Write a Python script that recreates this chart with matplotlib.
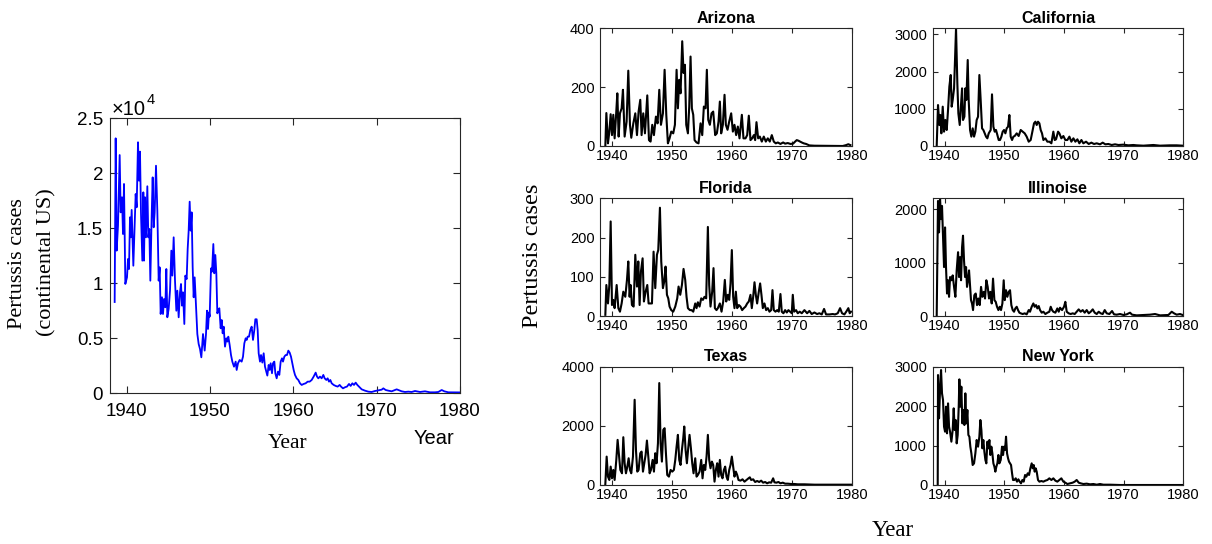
import matplotlib
matplotlib.use("Agg")
import matplotlib.pyplot as plt
from matplotlib.ticker import FuncFormatter

SANS = ["Liberation Sans", "DejaVu Sans"]
SERIF = ["Liberation Serif", "DejaVu Serif"]
plt.rcParams["font.family"] = SANS

# ---------------- data ----------------
us_year = [1938.56, 1938.68, 1938.80, 1938.96, 1939.16, 1939.28, 1939.44, 1939.56, 1939.68, 1939.84,
           1940.04, 1940.16, 1940.28, 1940.40, 1940.48, 1940.60, 1940.80, 1941.08, 1941.20, 1941.36,
           1941.48, 1941.60, 1941.72, 1941.88, 1942.00, 1942.08, 1942.20, 1942.32, 1942.48, 1942.60,
           1942.72, 1942.84, 1943.00, 1943.12, 1943.24, 1943.36, 1943.52, 1943.68, 1943.84, 1943.96,
           1944.08, 1944.24, 1944.36, 1944.48, 1944.64, 1944.76, 1944.88, 1945.04, 1945.20, 1945.36,
           1945.48, 1945.64, 1945.80, 1945.96, 1946.08, 1946.24, 1946.40, 1946.52, 1946.64, 1946.76,
           1946.92, 1947.04, 1947.20, 1947.32, 1947.44, 1947.56, 1947.68, 1947.80, 1947.92, 1948.04,
           1948.16, 1948.32, 1948.48, 1948.64, 1948.80, 1948.96, 1949.16, 1949.36, 1949.52, 1949.64,
           1949.76, 1949.88, 1949.96, 1950.12, 1950.24, 1950.40, 1950.52, 1950.64, 1950.76, 1950.88,
           1951.00, 1951.12, 1951.28, 1951.40, 1951.52, 1951.64, 1951.80, 1951.96, 1952.08, 1952.20,
           1952.36, 1952.52, 1952.68, 1952.88, 1953.08, 1953.20, 1953.36, 1953.56, 1953.80, 1953.96,
           1954.12, 1954.28, 1954.40, 1954.52, 1954.68, 1954.84, 1955.00, 1955.16, 1955.32, 1955.44,
           1955.60, 1955.72, 1955.84, 1956.00, 1956.12, 1956.28, 1956.44, 1956.60, 1956.76, 1956.88,
           1957.04, 1957.16, 1957.28, 1957.44, 1957.56, 1957.72, 1957.84, 1958.00, 1958.16, 1958.32,
           1958.48, 1958.64, 1958.76, 1958.92, 1959.08, 1959.24, 1959.40, 1959.56, 1959.72, 1959.88,
           1960.04, 1960.20, 1960.40, 1960.60, 1960.80, 1961.00, 1961.24, 1961.48, 1961.72, 1961.96,
           1962.20, 1962.44, 1962.68, 1962.84, 1963.00, 1963.20, 1963.40, 1963.60, 1963.76, 1963.96,
           1964.12, 1964.28, 1964.44, 1964.60, 1964.84, 1965.08, 1965.32, 1965.56, 1965.72, 1965.96,
           1966.20, 1966.44, 1966.68, 1966.88, 1967.08, 1967.28, 1967.48, 1967.68, 1967.88, 1968.20,
           1968.60, 1969.00, 1969.40, 1969.80, 1970.20, 1970.60, 1970.80, 1971.08, 1971.40, 1971.80,
           1972.40, 1973.00, 1973.40, 1973.80, 1974.20, 1974.60, 1975.20, 1975.80, 1976.40, 1977.00,
           1977.40, 1977.80, 1978.12, 1978.60, 1979.20, 1979.80, 1980.00]
us_cases = [8300, 23180, 12970, 15240, 21660, 16450, 17820, 14480, 19030, 9940,
            10540, 12210, 11300, 16000, 14180, 16670, 11600, 18120, 16910, 22820,
            19330, 21970, 16300, 12060, 18270, 12060, 17820, 14180, 18820, 14180,
            14940, 10240, 16150, 19630, 15090, 16450, 20690, 16600, 10240, 11450,
            7210, 8730, 7210, 8570, 7820, 11300, 6910, 7670, 9330, 12970,
            10700, 14180, 10240, 7510, 9330, 6910, 9180, 9940, 7970, 9180,
            6300, 10700, 10390, 13120, 14790, 17420, 14790, 16450, 11450, 8730,
            10540, 7970, 5390, 4480, 4030, 3270, 5390, 3880, 5390, 7510,
            5850, 7360, 6970, 11360, 11060, 13570, 10910, 12570, 10910, 7270,
            7580, 7730, 5910, 6670, 5450, 6060, 4240, 5000, 4700, 5150,
            4390, 3480, 2880, 2420, 2880, 2120, 2730, 3030, 2880, 3330,
            4545, 5000, 4850, 5150, 5150, 5760, 6060, 4850, 5760, 6730,
            6730, 5760, 3640, 2880, 3480, 2790, 3640, 2420, 1970, 1610,
            2580, 2120, 2730, 1820, 2730, 2880, 1820, 1360, 1970, 1670,
            2880, 3180, 2880, 3330, 3480, 3480, 3880, 3700, 3330, 2730,
            2120, 1670, 1360, 1210, 910, 760, 850, 910, 1060, 1060,
            1210, 1520, 1880, 1520, 1360, 1520, 1360, 1670, 1360, 1210,
            1360, 1060, 1210, 910, 760, 670, 610, 760, 610, 450,
            550, 610, 850, 670, 910, 760, 970, 760, 610, 360,
            240, 150, 120, 210, 270, 330, 450, 300, 240, 180,
            360, 180, 120, 150, 120, 210, 120, 180, 90, 90,
            120, 300, 180, 90, 90, 90, 80]

az_year = [1938.89, 1939.06, 1939.33, 1939.56, 1939.78, 1940.00, 1940.22, 1940.44, 1940.67, 1940.89,
           1941.11, 1941.33, 1941.61, 1941.83, 1942.11, 1942.44, 1942.72, 1943.00, 1943.22, 1943.56,
           1943.89, 1944.17, 1944.44, 1944.72, 1944.94, 1945.22, 1945.50, 1945.89, 1946.17, 1946.44,
           1946.72, 1947.00, 1947.33, 1947.61, 1947.89, 1948.17, 1948.50, 1948.78, 1949.06, 1949.33,
           1949.61, 1949.89, 1950.22, 1950.50, 1950.78, 1951.00, 1951.22, 1951.44, 1951.72, 1951.94,
           1952.17, 1952.39, 1952.67, 1952.89, 1953.11, 1953.33, 1953.56, 1953.78, 1954.11, 1954.44,
           1954.78, 1955.06, 1955.33, 1955.61, 1955.83, 1956.06, 1956.33, 1956.61, 1956.89, 1957.22,
           1957.50, 1957.78, 1958.00, 1958.22, 1958.50, 1958.78, 1959.00, 1959.28, 1959.56, 1959.89,
           1960.17, 1960.44, 1960.72, 1961.00, 1961.28, 1961.67, 1961.94, 1962.28, 1962.56, 1962.83,
           1963.11, 1963.39, 1963.67, 1963.89, 1964.11, 1964.39, 1964.67, 1965.00, 1965.33, 1965.67,
           1966.00, 1966.33, 1966.67, 1967.00, 1967.33, 1967.67, 1968.11, 1968.56, 1968.89, 1969.33,
           1969.78, 1970.22, 1970.56, 1970.83, 1971.11, 1971.39, 1971.67, 1972.00, 1972.39, 1972.94,
           1973.78, 1978.50, 1979.06, 1979.44, 1979.78]
az_cases = [0, 112, 9, 49, 108, 37, 106, 26, 100, 179,
            32, 111, 128, 191, 32, 83, 256, 72, 28, 77,
            111, 37, 117, 157, 37, 111, 43, 172, 20, 15,
            72, 37, 100, 77, 191, 72, 111, 259, 106, 9,
            26, 49, 43, 72, 259, 128, 225, 179, 356, 248,
            276, 72, 43, 134, 304, 128, 106, 20, 12, 9,
            77, 37, 134, 128, 259, 89, 72, 111, 117, 37,
            43, 83, 151, 43, 72, 174, 72, 55, 83, 111,
            49, 72, 37, 66, 26, 106, 26, 26, 37, 103,
            20, 26, 37, 20, 81, 26, 32, 15, 32, 15,
            26, 15, 37, 15, 9, 12, 7, 12, 8, 10,
            7, 8, 15, 20, 18, 15, 12, 9, 7, 2,
            1, 0, 3, 6, 3]

ca_year = [1938.67, 1938.89, 1939.12, 1939.28, 1939.45, 1939.68, 1939.90, 1940.12, 1940.35, 1940.57,
           1940.79, 1941.02, 1941.18, 1941.35, 1941.58, 1941.74, 1941.91, 1942.13, 1942.30, 1942.53,
           1942.69, 1942.92, 1943.08, 1943.31, 1943.47, 1943.64, 1943.87, 1944.03, 1944.26, 1944.48,
           1944.70, 1944.93, 1945.15, 1945.37, 1945.60, 1945.82, 1946.04, 1946.27, 1946.49, 1946.72,
           1946.94, 1947.16, 1947.39, 1947.72, 1947.94, 1948.17, 1948.39, 1948.61, 1948.84, 1949.06,
           1949.28, 1949.51, 1949.73, 1949.96, 1950.18, 1950.40, 1950.63, 1950.85, 1951.07, 1951.30,
           1951.52, 1951.74, 1952.08, 1952.41, 1952.75, 1953.08, 1953.42, 1953.75, 1954.09, 1954.42,
           1954.76, 1954.98, 1955.21, 1955.43, 1955.65, 1955.88, 1956.10, 1956.32, 1956.55, 1956.88,
           1957.22, 1957.55, 1957.89, 1958.22, 1958.45, 1958.67, 1959.01, 1959.23, 1959.56, 1959.90,
           1960.23, 1960.57, 1960.91, 1961.24, 1961.58, 1961.91, 1962.25, 1962.58, 1962.92, 1963.25,
           1963.70, 1964.15, 1964.59, 1965.04, 1965.49, 1966.04, 1966.49, 1966.94, 1967.44, 1968.00,
           1968.56, 1969.12, 1969.96, 1970.79, 1971.63, 1972.19, 1973.31, 1974.98, 1976.10, 1977.78,
           1978.89, 1979.89]
ca_cases = [0, 1100, 564, 832, 340, 1056, 385, 698, 430, 967,
            1593, 1906, 1056, 1235, 1548, 2309, 3160, 1683, 877, 564,
            967, 1548, 698, 788, 1548, 1235, 2309, 1235, 430, 251,
            474, 251, 385, 698, 788, 1906, 1235, 474, 430, 340,
            251, 206, 340, 430, 1387, 519, 385, 430, 295, 161,
            161, 251, 385, 430, 340, 474, 519, 832, 251, 161,
            251, 268, 340, 268, 430, 385, 340, 251, 116, 161,
            430, 609, 653, 564, 653, 609, 430, 340, 161, 206,
            116, 116, 72, 385, 161, 179, 385, 340, 206, 268,
            161, 161, 251, 116, 206, 116, 179, 72, 161, 72,
            116, 54, 90, 54, 72, 45, 90, 45, 54, 27,
            45, 27, 36, 18, 27, 18, 9, 27, 9, 18,
            18, 9]

fl_year = [1938.89, 1939.06, 1939.33, 1939.56, 1939.78, 1940.00, 1940.22, 1940.44, 1940.78, 1941.06,
           1941.33, 1941.61, 1941.89, 1942.22, 1942.50, 1942.72, 1942.94, 1943.11, 1943.33, 1943.61,
           1943.89, 1944.17, 1944.39, 1944.61, 1944.83, 1945.11, 1945.33, 1945.61, 1945.89, 1946.11,
           1946.39, 1946.67, 1946.94, 1947.22, 1947.50, 1947.72, 1948.00, 1948.22, 1948.50, 1948.72,
           1948.94, 1949.17, 1949.39, 1949.61, 1949.89, 1950.22, 1950.56, 1950.89, 1951.11, 1951.39,
           1951.67, 1951.94, 1952.22, 1952.44, 1952.67, 1953.00, 1953.28, 1953.56, 1953.89, 1954.11,
           1954.33, 1954.61, 1954.89, 1955.17, 1955.44, 1955.72, 1956.00, 1956.22, 1956.44, 1956.72,
           1956.94, 1957.17, 1957.44, 1957.67, 1958.00, 1958.28, 1958.56, 1958.83, 1959.06, 1959.33,
           1959.56, 1959.78, 1960.00, 1960.22, 1960.44, 1960.67, 1960.89, 1961.17, 1961.44, 1961.72,
           1962.00, 1962.28, 1962.56, 1962.83, 1963.11, 1963.33, 1963.56, 1963.78, 1964.00, 1964.22,
           1964.50, 1964.72, 1964.94, 1965.17, 1965.44, 1965.72, 1966.00, 1966.28, 1966.56, 1966.78,
           1967.00, 1967.28, 1967.56, 1967.83, 1968.11, 1968.33, 1968.61, 1968.89, 1969.17, 1969.44,
           1969.72, 1970.00, 1970.17, 1970.39, 1970.72, 1971.00, 1971.33, 1971.67, 1972.11, 1972.56,
           1972.94, 1973.33, 1973.78, 1974.22, 1974.61, 1975.00, 1975.39, 1975.72, 1976.28, 1976.83,
           1977.22, 1977.67, 1978.06, 1978.39, 1978.78, 1979.17, 1979.44, 1979.67, 1979.89]
fl_cases = [3, 79, 32, 79, 241, 28, 41, 20, 79, 20,
            11, 32, 62, 49, 92, 139, 49, 79, 28, 24,
            156, 75, 139, 28, 113, 147, 37, 62, 79, 32,
            32, 32, 164, 71, 156, 168, 276, 139, 71, 88,
            126, 54, 45, 24, 15, 11, 24, 45, 75, 54,
            79, 120, 92, 49, 20, 15, 15, 11, 32, 20,
            35, 24, 45, 41, 49, 45, 227, 79, 24, 62,
            122, 20, 15, 20, 32, 11, 37, 92, 37, 54,
            41, 83, 168, 49, 20, 62, 20, 28, 24, 15,
            20, 24, 32, 37, 54, 20, 49, 86, 54, 32,
            62, 83, 54, 20, 32, 15, 20, 11, 15, 66,
            15, 11, 15, 11, 56, 11, 7, 15, 9, 15,
            11, 7, 54, 11, 15, 7, 11, 7, 15, 7,
            13, 5, 9, 5, 7, 4, 18, 4, 4, 5,
            4, 7, 20, 7, 4, 13, 20, 7, 11]

il_year = [1938.67, 1938.89, 1939.06, 1939.23, 1939.40, 1939.56, 1939.73, 1939.90, 1940.07, 1940.23,
           1940.40, 1940.57, 1940.74, 1940.91, 1941.13, 1941.35, 1941.58, 1941.80, 1942.02, 1942.25,
           1942.41, 1942.58, 1942.75, 1942.92, 1943.08, 1943.25, 1943.42, 1943.59, 1943.75, 1943.92,
           1944.09, 1944.26, 1944.42, 1944.59, 1944.76, 1944.98, 1945.21, 1945.43, 1945.65, 1945.88,
           1946.10, 1946.32, 1946.55, 1946.77, 1946.99, 1947.22, 1947.44, 1947.66, 1947.89, 1948.11,
           1948.34, 1948.56, 1948.78, 1949.01, 1949.23, 1949.45, 1949.68, 1949.90, 1950.07, 1950.29,
           1950.51, 1950.74, 1950.96, 1951.18, 1951.41, 1951.63, 1951.85, 1952.08, 1952.30, 1952.53,
           1952.75, 1953.08, 1953.42, 1953.75, 1954.09, 1954.31, 1954.59, 1954.87, 1955.09, 1955.32,
           1955.54, 1955.77, 1955.99, 1956.27, 1956.55, 1956.88, 1957.22, 1957.55, 1957.78, 1958.00,
           1958.22, 1958.56, 1958.89, 1959.12, 1959.34, 1959.68, 1960.01, 1960.23, 1960.46, 1960.79,
           1961.13, 1961.46, 1961.80, 1962.13, 1962.47, 1962.80, 1963.14, 1963.47, 1963.81, 1964.15,
           1964.48, 1964.82, 1965.15, 1965.49, 1965.82, 1966.16, 1966.49, 1966.83, 1967.16, 1967.61,
           1968.06, 1968.39, 1968.84, 1969.40, 1969.96, 1970.51, 1971.07, 1971.41, 1972.19, 1973.31,
           1974.42, 1975.26, 1976.10, 1977.50, 1978.06, 1978.45, 1978.89, 1979.45, 1979.89]
il_cases = [0, 2154, 1566, 2204, 1814, 2061, 1473, 916, 1659, 916,
            421, 669, 359, 730, 669, 761, 545, 359, 854, 1195,
            730, 1102, 669, 1288, 1504, 1040, 730, 916, 545, 669,
            854, 576, 297, 235, 111, 390, 421, 204, 328, 204,
            545, 359, 452, 328, 669, 545, 328, 452, 235, 700,
            297, 266, 173, 111, 173, 111, 235, 669, 297, 483,
            359, 452, 483, 204, 111, 80, 142, 173, 111, 62,
            50, 37, 50, 31, 111, 80, 173, 235, 173, 204,
            142, 186, 111, 62, 80, 37, 62, 80, 173, 111,
            80, 62, 142, 80, 155, 111, 173, 266, 80, 50,
            37, 50, 37, 80, 124, 80, 111, 62, 111, 50,
            80, 124, 62, 37, 80, 50, 37, 111, 50, 37,
            93, 31, 25, 37, 19, 31, 62, 25, 12, 19,
            25, 37, 12, 19, 80, 50, 25, 37, 19]

tx_year = [1938.89, 1939.11, 1939.33, 1939.56, 1939.78, 1940.00, 1940.22, 1940.44, 1940.72, 1940.94,
           1941.17, 1941.39, 1941.67, 1941.89, 1942.11, 1942.33, 1942.56, 1942.78, 1943.00, 1943.22,
           1943.50, 1943.78, 1944.00, 1944.22, 1944.44, 1944.72, 1944.94, 1945.17, 1945.39, 1945.61,
           1945.83, 1946.06, 1946.28, 1946.50, 1946.78, 1947.00, 1947.22, 1947.44, 1947.67, 1947.89,
           1948.11, 1948.33, 1948.56, 1948.78, 1949.00, 1949.22, 1949.50, 1949.78, 1950.06, 1950.33,
           1950.56, 1950.78, 1951.00, 1951.22, 1951.44, 1951.67, 1951.89, 1952.06, 1952.28, 1952.50,
           1952.72, 1952.94, 1953.17, 1953.39, 1953.61, 1953.89, 1954.11, 1954.33, 1954.61, 1954.89,
           1955.11, 1955.33, 1955.56, 1955.78, 1956.00, 1956.22, 1956.44, 1956.67, 1956.89, 1957.11,
           1957.33, 1957.56, 1957.78, 1958.00, 1958.22, 1958.44, 1958.67, 1958.89, 1959.11, 1959.33,
           1959.56, 1959.78, 1960.00, 1960.22, 1960.44, 1960.67, 1960.89, 1961.11, 1961.44, 1961.78,
           1962.11, 1962.44, 1962.78, 1963.00, 1963.22, 1963.56, 1963.89, 1964.22, 1964.56, 1964.89,
           1965.22, 1965.56, 1965.89, 1966.22, 1966.56, 1966.89, 1967.11, 1967.44, 1967.78, 1968.11,
           1968.50, 1968.89, 1969.33, 1969.89, 1970.44, 1971.00, 1972.11, 1973.78, 1976.56, 1979.89]
tx_cases = [34, 960, 283, 170, 622, 226, 509, 170, 848, 1526,
            1017, 509, 396, 1616, 735, 396, 622, 904, 509, 396,
            960, 2882, 1187, 452, 509, 1074, 1130, 452, 735, 1017,
            1503, 960, 396, 509, 848, 452, 1074, 735, 1413, 3447,
            1413, 791, 1865, 1921, 1074, 339, 283, 509, 452, 509,
            848, 1300, 1695, 848, 678, 1187, 1582, 1978, 1187, 735,
            1243, 1695, 1243, 735, 396, 904, 283, 339, 452, 848,
            226, 678, 509, 960, 1695, 848, 565, 791, 678, 113,
            509, 735, 283, 848, 339, 226, 509, 622, 283, 170,
            509, 678, 960, 622, 283, 452, 339, 170, 147, 192,
            113, 170, 226, 260, 170, 192, 102, 136, 102, 147,
            79, 102, 57, 90, 79, 226, 90, 79, 102, 57,
            79, 45, 45, 34, 34, 23, 23, 11, 11, 11]

ny_year = [1938.84, 1938.89, 1939.06, 1939.23, 1939.40, 1939.56, 1939.73, 1939.90, 1940.07, 1940.23,
           1940.40, 1940.57, 1940.74, 1940.91, 1941.13, 1941.35, 1941.52, 1941.69, 1941.85, 1942.02,
           1942.19, 1942.36, 1942.47, 1942.64, 1942.80, 1942.97, 1943.14, 1943.31, 1943.47, 1943.64,
           1943.81, 1943.98, 1944.15, 1944.31, 1944.48, 1944.70, 1944.93, 1945.15, 1945.37, 1945.60,
           1945.82, 1945.99, 1946.16, 1946.32, 1946.49, 1946.66, 1946.83, 1946.99, 1947.16, 1947.33,
           1947.50, 1947.66, 1947.83, 1948.00, 1948.17, 1948.34, 1948.50, 1948.67, 1948.84, 1949.01,
           1949.17, 1949.40, 1949.62, 1949.79, 1949.96, 1950.12, 1950.29, 1950.46, 1950.63, 1950.79,
           1950.96, 1951.13, 1951.30, 1951.46, 1951.69, 1951.91, 1952.13, 1952.36, 1952.58, 1952.80,
           1953.03, 1953.25, 1953.48, 1953.70, 1953.92, 1954.15, 1954.37, 1954.59, 1954.76, 1954.93,
           1955.09, 1955.26, 1955.43, 1955.65, 1955.88, 1956.21, 1956.55, 1956.88, 1957.22, 1957.55,
           1957.89, 1958.22, 1958.56, 1958.89, 1959.23, 1959.56, 1959.90, 1960.23, 1960.57, 1961.02,
           1961.46, 1961.80, 1962.13, 1962.47, 1962.80, 1963.25, 1963.81, 1964.37, 1964.93, 1965.49,
           1966.04, 1966.60, 1967.72, 1969.40, 1972.19, 1974.98, 1977.78, 1979.89]
ny_cases = [0, 2789, 1690, 2408, 2915, 2324, 2155, 1479, 1352, 1986,
            1310, 2070, 1479, 1352, 1099, 1394, 1944, 1394, 1648, 1056,
            1268, 1986, 2679, 1986, 2493, 1563, 1901, 1521, 2324, 1563,
            1901, 1268, 1225, 972, 803, 507, 549, 803, 1141, 972,
            1225, 1648, 1394, 930, 1141, 845, 634, 549, 1099, 930,
            1141, 761, 972, 803, 549, 465, 338, 465, 549, 761,
            549, 634, 972, 761, 972, 887, 1225, 803, 676, 592,
            549, 507, 296, 127, 127, 169, 85, 144, 85, 42,
            127, 85, 254, 211, 296, 254, 423, 549, 423, 507,
            338, 423, 338, 127, 85, 101, 85, 110, 127, 169,
            127, 169, 110, 85, 127, 169, 85, 59, 25, 42,
            59, 85, 127, 59, 42, 25, 34, 17, 25, 8,
            25, 8, 8, 0, 0, 0, 0, 0]

state_names = ["Arizona", "California", "Florida", "Illinoise", "Texas", "New York"]
state_years = [az_year, ca_year, fl_year, il_year, tx_year, ny_year]
state_cases = [az_cases, ca_cases, fl_cases, il_cases, tx_cases, ny_cases]
state_ylims = [400, 3160, 300, 2204, 4000, 3000]
state_yticks = [[0, 200, 400], [0, 1000, 2000, 3000], [0, 100, 200, 300],
                [0, 1000, 2000], [0, 2000, 4000], [0, 1000, 2000, 3000]]
year_ticks = [1940, 1950, 1960, 1970, 1980]
us_yticks = [0, 5000, 10000, 15000, 20000, 25000]

# ---------------- figure ----------------
W, H = 1212, 544
fig = plt.figure(figsize=(W / 100, H / 100), dpi=100)

def px_axes(left, top, right, bottom):
    return fig.add_axes([left / W, 1 - bottom / H, (right - left) / W, (bottom - top) / H])

AX_COL = "#262626"

def style(ax, fs, ticklen, xpad, ypad):
    for s in ax.spines.values():
        s.set_color(AX_COL)
        s.set_linewidth(0.8)
    ax.tick_params(direction="in", top=True, right=True, length=ticklen, width=0.8,
                   colors=AX_COL, labelcolor="black", labelsize=fs)
    ax.tick_params(axis="x", pad=xpad)
    ax.tick_params(axis="y", pad=ypad)

# left (continental US)
ax0 = px_axes(110, 118.3, 460, 393.3)
ax0.plot(us_year, us_cases, color=(0, 0, 1), lw=1.3)
ax0.set_xlim(1938, 1980)
ax0.set_ylim(0, 25000)
ax0.set_xticks(year_ticks)
ax0.set_yticks(us_yticks)
ax0.yaxis.set_major_formatter(FuncFormatter(lambda v, p: "%g" % (v / 1e4)))
style(ax0, 13.5, 5, 7, 5)
fig.text(18 / W, 1 - 264 / H, "Pertussis cases", family=SERIF, fontsize=16,
         rotation=90, ha="center", va="center")
fig.text(47 / W, 1 - 262 / H, "(continental US)", family=SERIF, fontsize=16,
         rotation=90, ha="center", va="center")
fig.text(288 / W, 1 - 443 / H, "Year", family=SERIF, fontsize=15.5, ha="center", va="center")
fig.text(434 / W, 1 - 438 / H, "Year", family=SANS, fontsize=14.5, ha="center", va="center")
# axis exponent label (x10^4)
fig.text(112 / W, 1 - 109 / H, "\u00d710", fontsize=14.5, ha="left", va="center")
fig.text(147 / W, 1 - 100 / H, "4", fontsize=10.5, ha="left", va="center")

# right: six states
cols = [(600, 851.7), (932.7, 1183.3)]
rows = [(28.3, 146), (198.3, 316), (366.7, 485)]
for i, name in enumerate(state_names):
    r, c = divmod(i, 2)
    ax = px_axes(cols[c][0], rows[r][0], cols[c][1], rows[r][1])
    ax.plot(state_years[i], state_cases[i], color="black", lw=1.5)
    ax.set_xlim(1938, 1980)
    ax.set_ylim(0, state_ylims[i])
    ax.set_xticks(year_ticks)
    ax.set_yticks(state_yticks[i])
    style(ax, 10.5, 3.5, 2.5, 4)
    ax.set_title(name, fontsize=11.5, fontweight="bold", pad=4)

fig.text(533 / W, 1 - 256 / H, "Pertussis cases", family=SERIF, fontsize=17.5,
         rotation=90, ha="center", va="center")
fig.text(893 / W, 1 - 531 / H, "Year", family=SERIF, fontsize=16.5, ha="center", va="center")

fig.savefig("out.png", dpi=100)
